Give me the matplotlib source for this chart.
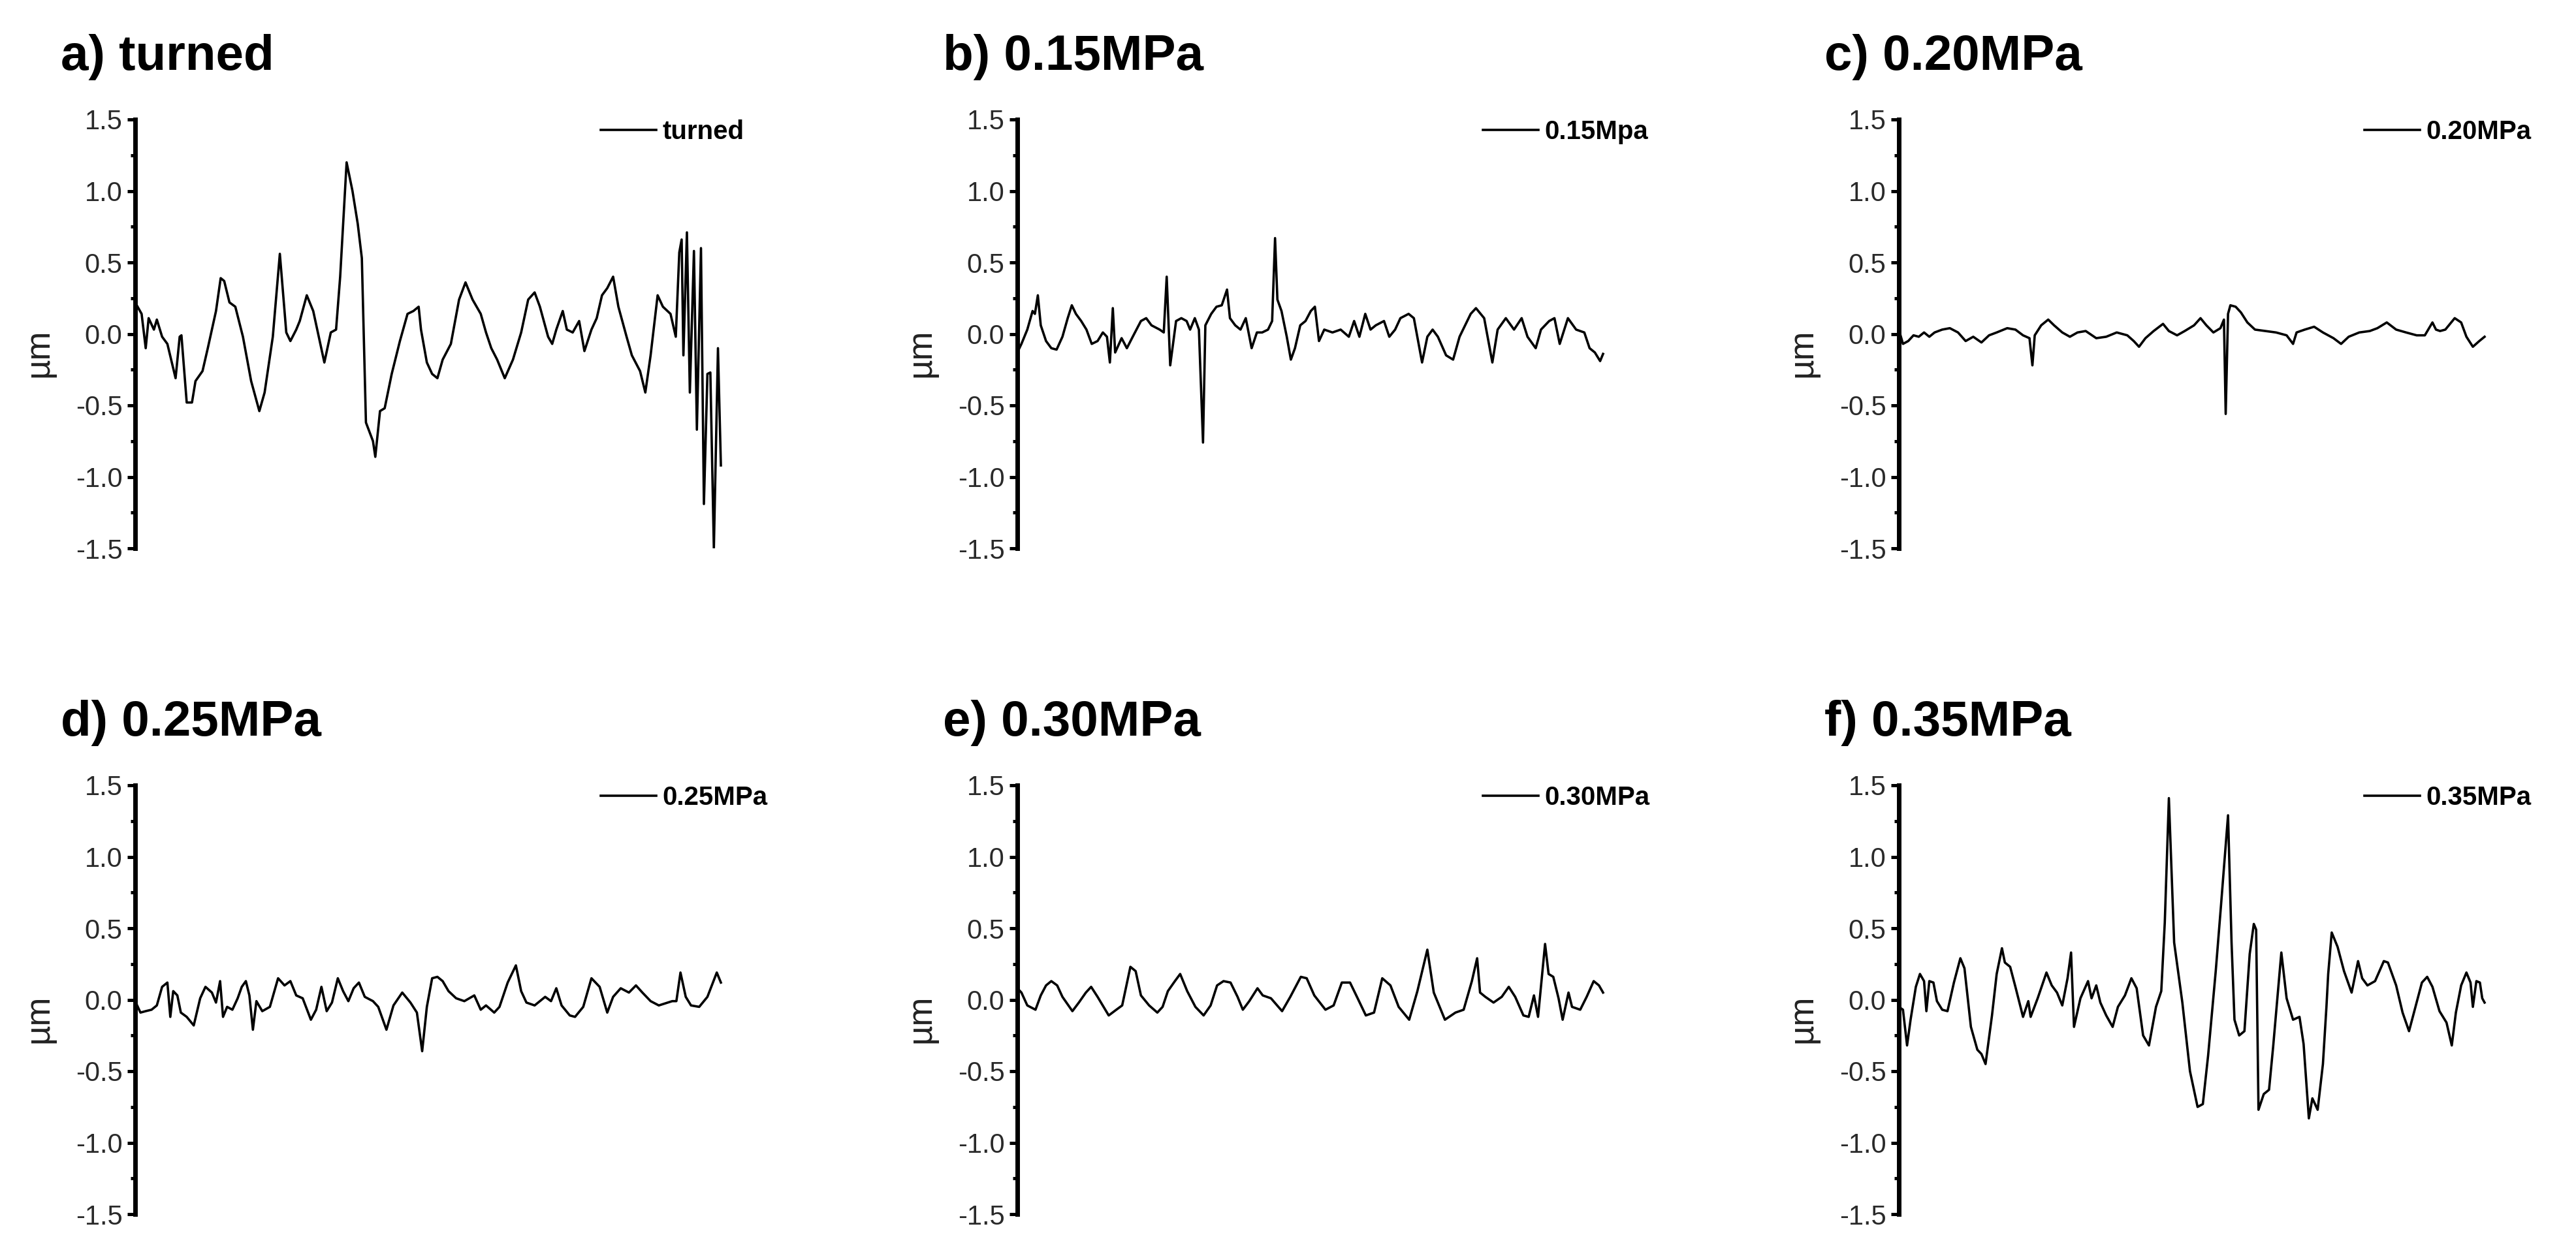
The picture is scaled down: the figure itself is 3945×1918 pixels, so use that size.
import matplotlib
matplotlib.use("Agg")
import matplotlib.pyplot as plt
from matplotlib.ticker import MultipleLocator, FormatStrFormatter

plt.rcParams['font.family'] = ['Liberation Sans', 'DejaVu Sans']

# profile position along the trace (% of trace length) and height (um)
pos_a = [0.0, 1.1, 1.8, 2.3, 3.2, 3.7, 4.6, 5.5, 6.9, 7.6, 7.9, 8.8, 9.7, 10.3, 11.5, 12.4,
         13.8, 14.6, 15.2, 16.1, 17.1, 18.4, 19.8, 21.2, 22.1, 23.5, 24.7, 25.8, 26.5, 27.5,
         28.1, 29.3, 30.4, 32.3, 33.4, 34.3, 35.0, 36.1, 37.1, 38.0, 38.7, 39.4, 40.6, 41.0,
         41.8, 42.6, 43.8, 45.2, 46.5, 47.5, 48.4, 48.8, 49.8, 50.7, 51.6, 52.5, 53.9, 55.3,
         56.4, 57.6, 59.0, 59.9, 60.8, 61.8, 63.1, 64.5, 65.9, 67.1, 68.2, 69.1, 70.5, 71.2,
         71.9, 73.0, 73.7, 74.7, 75.8, 76.7, 77.9, 78.8, 79.7, 80.6, 81.6, 82.5, 83.9, 84.8,
         86.2, 87.1, 88.0, 89.2, 90.1, 91.4, 92.3, 92.9, 93.3, 93.6, 94.2, 94.7, 95.4, 95.9,
         96.6, 97.1, 97.7, 98.2, 98.8, 99.5, 100.0]
h_a = [0.22, 0.14, -0.10, 0.11, 0.03, 0.10, -0.02, -0.07, -0.31, -0.02, -0.01, -0.48, -0.48,
       -0.33, -0.26, -0.10, 0.16, 0.39, 0.37, 0.22, 0.19, -0.02, -0.33, -0.54, -0.41, -0.02,
       0.56, 0.01, -0.05, 0.03, 0.09, 0.27, 0.16, -0.20, 0.01, 0.03, 0.40, 1.20, 1.00, 0.77,
       0.53, -0.62, -0.75, -0.86, -0.54, -0.52, -0.28, -0.05, 0.14, 0.16, 0.19, 0.03, -0.20,
       -0.28, -0.31, -0.18, -0.07, 0.24, 0.36, 0.24, 0.14, 0.01, -0.10, -0.18, -0.31, -0.18,
       0.01, 0.24, 0.29, 0.19, -0.02, -0.07, 0.03, 0.16, 0.03, 0.01, 0.09, -0.12, 0.03, 0.11,
       0.27, 0.32, 0.40, 0.19, -0.02, -0.15, -0.26, -0.41, -0.15, 0.27, 0.19, 0.14, -0.02,
       0.57, 0.66, -0.15, 0.71, -0.41, 0.58, -0.67, 0.60, -1.19, -0.28, -0.27, -1.50, -0.10,
       -0.92]

pos_b = [0.0, 0.7, 1.7, 2.6, 3.0, 3.5, 4.0, 4.9, 5.8, 6.7, 7.7, 8.6, 9.3, 10.0, 10.9, 11.8,
         12.7, 13.7, 14.6, 15.3, 15.8, 16.3, 16.7, 17.8, 18.7, 19.7, 21.1, 22.0, 22.9, 24.3,
         25.0, 25.5, 26.1, 27.1, 28.0, 28.9, 29.5, 30.3, 31.0, 31.7, 32.1, 33.1, 34.0, 34.9,
         35.8, 36.3, 37.2, 38.1, 39.0, 40.0, 40.9, 41.8, 42.8, 43.5, 44.0, 44.4, 45.1, 46.0,
         46.7, 47.4, 48.3, 49.2, 50.1, 50.8, 51.5, 52.4, 53.8, 55.2, 56.6, 57.5, 58.4, 59.4,
         60.3, 61.2, 62.6, 63.5, 64.5, 65.4, 66.8, 67.7, 69.1, 70.0, 70.9, 71.8, 73.2, 74.4,
         75.5, 77.4, 78.3, 79.7, 81.1, 82.0, 83.4, 84.8, 86.1, 87.1, 88.5, 89.4, 90.8, 91.7,
         92.6, 94.0, 95.4, 96.8, 97.7, 98.6, 99.5, 100.0]
h_b = [-0.13, -0.07, 0.03, 0.16, 0.14, 0.27, 0.06, -0.05, -0.10, -0.11, -0.02, 0.11, 0.20,
       0.14, 0.09, 0.03, -0.07, -0.05, 0.01, -0.02, -0.20, 0.18, -0.13, -0.03, -0.10, -0.02,
       0.09, 0.11, 0.06, 0.03, 0.01, 0.40, -0.22, 0.09, 0.11, 0.09, 0.03, 0.11, 0.03, -0.76,
       0.06, 0.14, 0.19, 0.20, 0.31, 0.11, 0.06, 0.03, 0.11, -0.10, 0.01, 0.01, 0.03, 0.09,
       0.67, 0.24, 0.16, -0.02, -0.18, -0.10, 0.06, 0.09, 0.16, 0.19, -0.05, 0.03, 0.01, 0.03,
       -0.02, 0.09, -0.02, 0.14, 0.03, 0.06, 0.09, -0.02, 0.03, 0.11, 0.14, 0.11, -0.20, -0.02,
       0.03, -0.02, -0.15, -0.18, -0.02, 0.14, 0.18, 0.11, -0.20, 0.03, 0.11, 0.03, 0.11,
       -0.02, -0.10, 0.03, 0.09, 0.11, -0.07, 0.11, 0.03, 0.01, -0.10, -0.13, -0.19, -0.14]

pos_c = [0.0, 0.7, 1.6, 2.5, 3.4, 4.3, 5.2, 6.1, 7.4, 8.7, 10.1, 11.4, 12.7, 14.1, 15.4, 16.7,
         18.5, 19.9, 21.2, 22.3, 22.8, 23.2, 24.3, 25.5, 26.5, 27.9, 29.2, 30.5, 31.9, 33.7,
         35.4, 37.2, 39.0, 40.1, 41.0, 42.1, 43.5, 45.1, 46.1, 47.5, 48.8, 50.4, 51.5, 52.5,
         53.7, 54.9, 55.5, 55.8, 56.2, 56.6, 57.5, 58.4, 59.5, 60.8, 62.6, 64.4, 66.2, 67.3,
         67.9, 69.3, 70.9, 72.4, 74.2, 75.5, 76.8, 78.6, 80.4, 81.7, 83.3, 84.9, 86.6, 88.4,
         89.8, 91.1, 91.7, 92.4, 93.3, 94.9, 96.0, 96.9, 98.0, 99.1, 100.0]
h_c = [0.03, -0.07, -0.05, -0.01, -0.02, 0.01, -0.02, 0.01, 0.03, 0.04, 0.01, -0.05, -0.02,
       -0.06, -0.01, 0.01, 0.04, 0.03, -0.01, -0.03, -0.22, -0.01, 0.06, 0.10, 0.06, 0.01,
       -0.02, 0.01, 0.02, -0.03, -0.02, 0.01, -0.01, -0.05, -0.09, -0.03, 0.02, 0.07, 0.02,
       -0.01, 0.02, 0.06, 0.11, 0.06, 0.01, 0.04, 0.10, -0.56, 0.14, 0.20, 0.19, 0.15, 0.08,
       0.03, 0.02, 0.01, -0.01, -0.07, 0.01, 0.03, 0.05, 0.01, -0.03, -0.07, -0.02, 0.01, 0.02,
       0.04, 0.08, 0.03, 0.01, -0.01, -0.01, 0.08, 0.03, 0.02, 0.03, 0.11, 0.08, -0.02, -0.09,
       -0.05, -0.02]

pos_d = [0.0, 0.9, 1.8, 2.8, 3.7, 4.6, 5.5, 6.0, 6.5, 7.2, 7.8, 8.8, 10.0, 11.1, 12.0, 13.1,
         13.8, 14.5, 15.0, 15.7, 16.6, 17.5, 18.2, 18.9, 19.5, 20.1, 20.7, 21.7, 23.0, 24.4,
         25.5, 26.5, 27.5, 28.6, 30.0, 30.9, 31.8, 32.7, 33.6, 34.6, 35.5, 36.4, 37.3, 38.2,
         39.2, 40.6, 41.5, 42.9, 44.1, 45.6, 47.0, 48.1, 49.0, 49.8, 50.7, 51.6, 52.5, 53.5,
         54.8, 56.2, 57.9, 59.0, 59.9, 61.3, 62.2, 63.6, 65.0, 65.9, 66.8, 68.2, 70.0, 71.0,
         71.9, 72.8, 74.2, 75.1, 76.5, 77.9, 79.3, 80.6, 81.6, 82.9, 84.3, 85.5, 86.6, 88.0,
         89.4, 91.7, 92.4, 93.1, 94.0, 94.9, 96.3, 97.7, 99.3, 100.0]
h_d = [-0.01, -0.09, -0.08, -0.07, -0.04, 0.09, 0.12, -0.12, 0.06, 0.03, -0.09, -0.12, -0.18,
       0.01, 0.09, 0.05, -0.02, 0.13, -0.12, -0.05, -0.07, 0.01, 0.09, 0.13, 0.03, -0.21,
       -0.01, -0.08, -0.05, 0.15, 0.10, 0.13, 0.03, 0.01, -0.14, -0.07, 0.09, -0.08, -0.02,
       0.15, 0.06, -0.01, 0.08, 0.12, 0.02, -0.01, -0.05, -0.21, -0.04, 0.05, -0.02, -0.09,
       -0.36, -0.05, 0.15, 0.16, 0.13, 0.06, 0.01, -0.01, 0.03, -0.07, -0.04, -0.09, -0.05,
       0.12, 0.24, 0.06, -0.02, -0.04, 0.02, -0.01, 0.08, -0.04, -0.11, -0.12, -0.05, 0.15,
       0.09, -0.09, 0.02, 0.08, 0.05, 0.10, 0.05, -0.01, -0.04, -0.01, -0.01, 0.19, 0.02,
       -0.04, -0.05, 0.02, 0.19, 0.12]

pos_e = [0.0, 0.7, 1.7, 3.1, 4.0, 4.9, 5.8, 6.8, 7.7, 9.4, 10.5, 11.7, 12.6, 13.7, 15.6, 16.9,
         17.9, 19.3, 20.2, 21.1, 22.5, 23.9, 24.8, 25.7, 26.9, 27.8, 29.0, 30.4, 31.8, 33.0,
         34.1, 35.2, 36.4, 37.6, 38.5, 39.6, 41.0, 41.9, 43.3, 45.2, 46.6, 48.4, 49.4, 50.7,
         52.6, 54.0, 55.4, 56.8, 58.1, 59.5, 60.9, 62.3, 63.7, 65.1, 66.9, 68.3, 70.0, 71.1,
         73.0, 74.8, 76.2, 77.6, 78.5, 79.0, 79.9, 81.3, 82.7, 83.9, 85.0, 86.4, 87.3, 88.2,
         88.9, 90.1, 90.7, 91.5, 92.4, 93.1, 94.1, 94.7, 96.1, 97.2, 98.4, 99.3, 100.0]
h_e = [0.08, 0.05, -0.04, -0.07, 0.03, 0.10, 0.13, 0.10, 0.02, -0.08, -0.02, 0.05, 0.09, 0.02,
       -0.11, -0.07, -0.04, 0.23, 0.20, 0.03, -0.04, -0.09, -0.05, 0.06, 0.13, 0.18, 0.06,
       -0.05, -0.11, -0.04, 0.10, 0.13, 0.12, 0.02, -0.07, -0.01, 0.08, 0.03, 0.01, -0.08,
       0.02, 0.16, 0.15, 0.03, -0.07, -0.04, 0.12, 0.12, 0.01, -0.11, -0.09, 0.15, 0.10,
       -0.05, -0.14, 0.06, 0.35, 0.05, -0.14, -0.09, -0.07, 0.13, 0.29, 0.05, 0.02, -0.02,
       0.02, 0.09, 0.02, -0.11, -0.12, 0.03, -0.12, 0.39, 0.18, 0.16, 0.01, -0.14, 0.05, -0.05,
       -0.07, 0.02, 0.13, 0.10, 0.05]

pos_f = [0.0, 0.7, 1.4, 2.0, 2.9, 3.6, 4.3, 4.7, 5.2, 5.9, 6.5, 7.4, 8.3, 9.4, 10.5, 11.2,
         12.3, 13.4, 14.1, 14.8, 15.9, 16.7, 17.6, 18.1, 19.0, 19.9, 21.2, 22.1, 22.5, 23.7,
         25.2, 26.1, 27.0, 27.9, 28.8, 29.4, 29.9, 31.0, 32.3, 32.9, 33.7, 34.4, 35.4, 36.5,
         37.4, 38.6, 39.7, 40.6, 41.7, 42.7, 43.9, 44.8, 45.4, 46.1, 47.0, 48.4, 49.7, 51.0,
         51.9, 52.8, 54.1, 55.0, 56.2, 56.8, 57.3, 58.1, 59.0, 59.9, 60.6, 61.0, 61.4, 62.3,
         63.2, 63.9, 65.3, 66.2, 67.3, 68.4, 69.1, 70.0, 70.6, 71.5, 72.4, 73.0, 73.3, 73.9,
         74.9, 76.0, 77.3, 78.4, 79.1, 80.0, 81.3, 82.8, 83.5, 84.9, 86.0, 87.1, 88.2, 89.3,
         90.2, 91.1, 92.3, 93.5, 94.4, 95.1, 96.0, 96.9, 97.6, 98.0, 98.6, 99.2, 99.6, 100.0]
h_f = [-0.05, -0.07, -0.32, -0.14, 0.09, 0.18, 0.13, -0.08, 0.13, 0.12, -0.01, -0.07, -0.08,
       0.12, 0.29, 0.22, -0.19, -0.35, -0.38, -0.45, -0.11, 0.18, 0.36, 0.26, 0.23, 0.09,
       -0.12, -0.01, -0.12, 0.01, 0.19, 0.10, 0.05, -0.04, 0.15, 0.33, -0.19, 0.01, 0.13, 0.01,
       0.10, -0.02, -0.11, -0.19, -0.05, 0.03, 0.15, 0.08, -0.25, -0.32, -0.05, 0.06, 0.54,
       1.41, 0.40, -0.02, -0.50, -0.75, -0.73, -0.39, 0.20, 0.66, 1.29, 0.40, -0.14, -0.25,
       -0.22, 0.32, 0.53, 0.49, -0.77, -0.66, -0.63, -0.33, 0.33, 0.01, -0.14, -0.12, -0.31,
       -0.83, -0.69, -0.77, -0.45, -0.05, 0.18, 0.47, 0.37, 0.20, 0.05, 0.27, 0.15, 0.10, 0.13,
       0.27, 0.26, 0.10, -0.09, -0.22, -0.05, 0.12, 0.16, 0.09, -0.08, -0.16, -0.32, -0.09,
       0.10, 0.19, 0.12, -0.05, 0.13, 0.12, 0.01, -0.02]

titles = ['a) turned', 'b) 0.15MPa', 'c) 0.20MPa', 'd) 0.25MPa', 'e) 0.30MPa', 'f) 0.35MPa']
legend_labels = ['turned', '0.15Mpa', '0.20MPa', '0.25MPa', '0.30MPa', '0.35MPa']
positions = [pos_a, pos_b, pos_c, pos_d, pos_e, pos_f]
heights = [h_a, h_b, h_c, h_d, h_e, h_f]

W, H = 3945, 1918
fig = plt.figure(figsize=(W / 100, H / 100), dpi=100)

col_left = [207, 1558, 2908]
row_top = [183, 1203]
ax_w, ax_h = 965, 657

for i in range(6):
    r, c = divmod(i, 3)
    left = col_left[c] / W
    bottom = (H - row_top[r] - ax_h) / H
    ax = fig.add_axes([left, bottom, ax_w / W, ax_h / H])
    ax.plot(positions[i], heights[i], color='black', lw=2.6, label=legend_labels[i])
    ax.set_xlim(0, 100 * ax_w / 897)
    ax.set_ylim(-1.5, 1.5)
    for s in ['top', 'right', 'bottom']:
        ax.spines[s].set_visible(False)
    ax.spines['left'].set_linewidth(5)
    ax.set_xticks([])
    ax.yaxis.set_major_locator(MultipleLocator(0.5))
    ax.yaxis.set_minor_locator(MultipleLocator(0.25))
    ax.yaxis.set_major_formatter(FormatStrFormatter('%.1f'))
    ax.tick_params(axis='y', which='major', length=9, width=3.6, pad=5,
                   labelsize=30, labelcolor='#2a2a2a')
    ax.tick_params(axis='y', which='minor', length=5, width=3.6)
    ax.set_ylabel('µm', fontsize=38, color='#222222')
    ax.yaxis.set_label_coords(-0.127, 0.455)
    ax.text(-0.118, 1 + 76 / ax_h, titles[i], transform=ax.transAxes,
            fontsize=55, fontweight='bold', va='baseline', ha='left')
    ax.legend(loc='center left', bbox_to_anchor=(713 / ax_w, 1 - 19 / ax_h),
              frameon=False, borderpad=0, borderaxespad=0, handlelength=2.1,
              handletextpad=0.25, prop={'weight': 'bold', 'size': 29})

fig.savefig('out.png', dpi=100, facecolor='white')
